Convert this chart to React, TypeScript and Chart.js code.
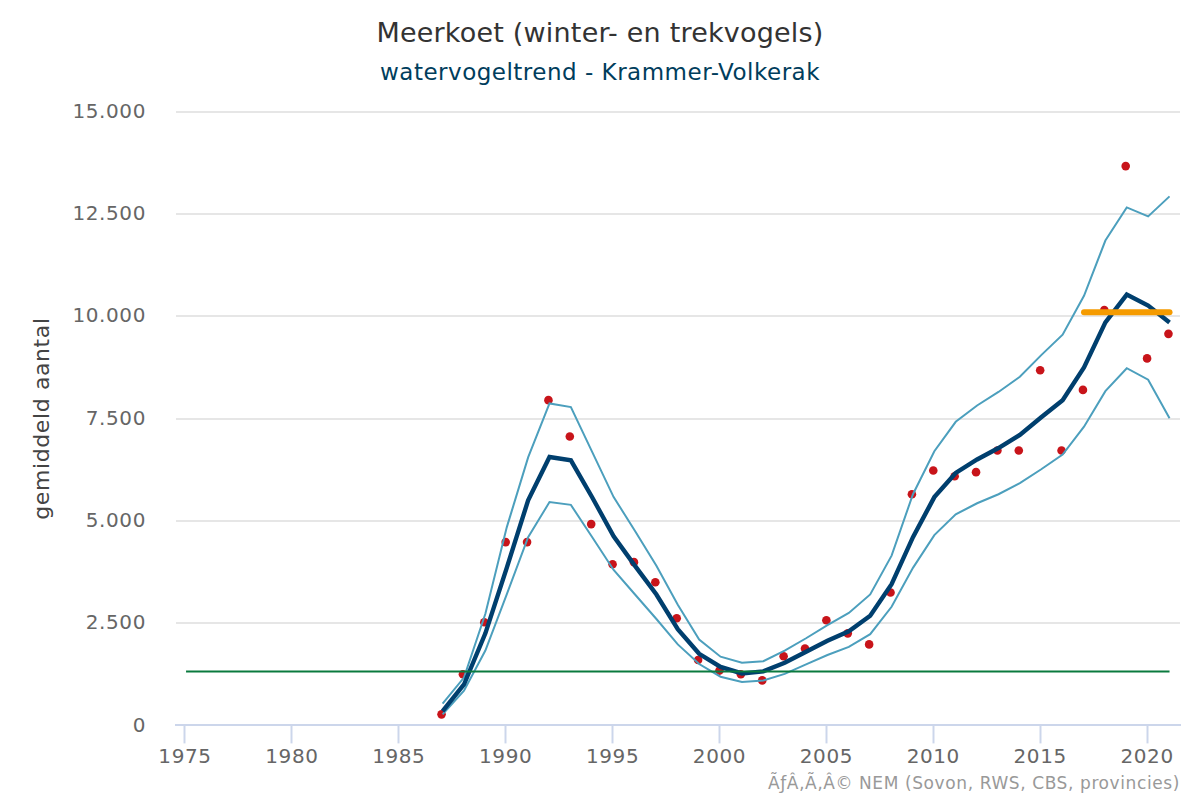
import React, { useEffect, useRef } from "react";
import { Chart, registerables } from "chart.js";

Chart.register(...registerables);

const years = [1987,1988,1989,1990,1991,1992,1993,1994,1995,1996,1997,1998,1999,2000,2001,2002,2003,2004,2005,2006,2007,2008,2009,2010,2011,2012,2013,2014,2015,2016,2017,2018,2019,2020,2021];
const trend = [350,1000,2250,3850,5500,6560,6480,5570,4620,3900,3200,2350,1750,1430,1270,1320,1530,1800,2070,2300,2680,3450,4600,5580,6170,6500,6780,7100,7530,7950,8750,9850,10530,10260,9850];
const upper = [530,1170,2730,4840,6550,7870,7780,6680,5580,4750,3900,2950,2100,1680,1530,1570,1830,2130,2450,2750,3200,4150,5650,6700,7420,7820,8150,8520,9050,9550,10500,11850,12660,12440,12930];
const lower = [270,850,1830,3200,4600,5460,5390,4600,3800,3200,2600,1980,1500,1190,1060,1100,1260,1490,1720,1920,2230,2900,3850,4650,5160,5430,5650,5920,6260,6620,7300,8170,8730,8450,7510];
const counts = [270,1250,2520,4480,4480,7950,7060,4920,3940,3990,3500,2620,1600,1340,1250,1100,1690,1880,2570,2250,1980,3250,5650,6230,6090,6190,6720,6720,8680,6720,8200,10150,13670,8970,9570];
const targetYears = [1975, 2021];
const targetValues = [1320, 1320];
const recentYears = [2017, 2021];
const recentValues = [10100, 10100];
const xTicks = [1975,1980,1985,1990,1995,2000,2005,2010,2015,2020];
const titleText = "Meerkoet (winter- en trekvogels)";
const subtitleText = "watervogeltrend - Krammer-Volkerak";
const yTitle = "gemiddeld aantal";
const creditText = "ÃƒÂ‚Ã‚Â© NEM (Sovon, RWS, CBS, provincies)";

const FONT = '"DejaVu Sans", sans-serif';
const pairs = (xs: number[], ys: number[]) => xs.map((x, i) => ({ x, y: ys[i] }));

const overlay = {
  id: "overlay",
  beforeDraw(chart: any) {
    const c = chart.ctx;
    c.save();
    c.fillStyle = "#ffffff";
    c.fillRect(0, 0, chart.width, chart.height);
    c.restore();
    c.letterSpacing = "0.6px";
  },
  afterDraw(chart: any) {
    const c = chart.ctx;
    c.save();
    c.textBaseline = "alphabetic";
    c.textAlign = "center";
    c.fillStyle = "#333333";
    c.letterSpacing = "0.2px";
    c.font = `27px ${FONT}`;
    c.fillText(titleText, 600, 42);
    c.fillStyle = "#003d5c";
    c.letterSpacing = "0.5px";
    c.font = `23px ${FONT}`;
    c.fillText(subtitleText, 600, 80);
    c.textAlign = "right";
    c.fillStyle = "#999999";
    c.letterSpacing = "0.6px";
    c.font = `17px ${FONT}`;
    c.fillText(creditText, 1180, 789);
    c.restore();
  },
};

export default function App() {
  const ref = useRef<HTMLCanvasElement>(null);
  useEffect(() => {
    document.body.style.margin = "0";
    ref.current!.getContext("2d", { alpha: false });
    const chart = new Chart(ref.current!, {
      type: "line",
      data: {
        datasets: [
          { label: "recent", xAxisID: "xLines", data: pairs(recentYears, recentValues), borderColor: "#f59b00", borderWidth: 6, borderCapStyle: "round", pointRadius: 0, order: 0 },
          { label: "target", xAxisID: "xLines", data: pairs(targetYears, targetValues), borderColor: "#0a7a3e", borderWidth: 2, pointRadius: 0, order: 1 },
          { label: "trend", xAxisID: "xLines", data: pairs(years, trend), borderColor: "#003f6e", borderWidth: 4.4, pointRadius: 0, order: 2 },
          { label: "upper", xAxisID: "xLines", data: pairs(years, upper), borderColor: "#4c9fbd", borderWidth: 2, pointRadius: 0, order: 3 },
          { label: "lower", xAxisID: "xLines", data: pairs(years, lower), borderColor: "#4c9fbd", borderWidth: 2, pointRadius: 0, order: 4 },
          { label: "counts", xAxisID: "x", data: pairs(years, counts), showLine: false, pointRadius: 4.3, pointBackgroundColor: "#c8141a", pointBorderWidth: 0, order: 5 },
        ],
      } as any,
      options: {
        responsive: false,
        animation: false,
        layout: { padding: { top: 111.7, right: 20, bottom: 0, left: 0 } },
        plugins: { legend: { display: false }, tooltip: { enabled: false } },
        scales: {
          x: {
            type: "linear",
            min: 1974.58,
            max: 2021.54,
            afterFit(s: any) { s.height = 74.6; },
            afterBuildTicks(s: any) {
              s.ticks = xTicks.map((value) => ({ value }));
            },
            grid: { drawOnChartArea: false, drawTicks: true, tickLength: 18, tickColor: "#ccd6eb", tickWidth: 2 },
            border: { color: "#ccd6eb", width: 2 },
            ticks: { color: "#666666", font: { family: FONT, size: 20 }, padding: 2, maxRotation: 0, autoSkip: false, callback: (v: any) => String(v) },
          },
          xLines: {
            type: "linear",
            display: false,
            min: 1974.53,
            max: 2021.49,
          },
          y: {
            min: 0,
            max: 15000,
            afterFit(s: any) { s.width = 176; },
            grid: { color: "#e6e6e6", lineWidth: 2, drawTicks: false },
            border: { display: false },
            title: { display: true, text: yTitle, color: "#444444", font: { family: FONT, size: 22 }, padding: { top: 30, bottom: 0 } },
            ticks: { stepSize: 2500, color: "#666666", font: { family: FONT, size: 20 }, padding: 30, labelOffset: 1, callback: (v: any) => Number(v).toLocaleString("de-DE") },
          },
        },
      } as any,
      plugins: [overlay] as any,
    });
    return () => chart.destroy();
  }, []);
  return <canvas ref={ref} width={1200} height={800} style={{ display: "block" }} />;
}
